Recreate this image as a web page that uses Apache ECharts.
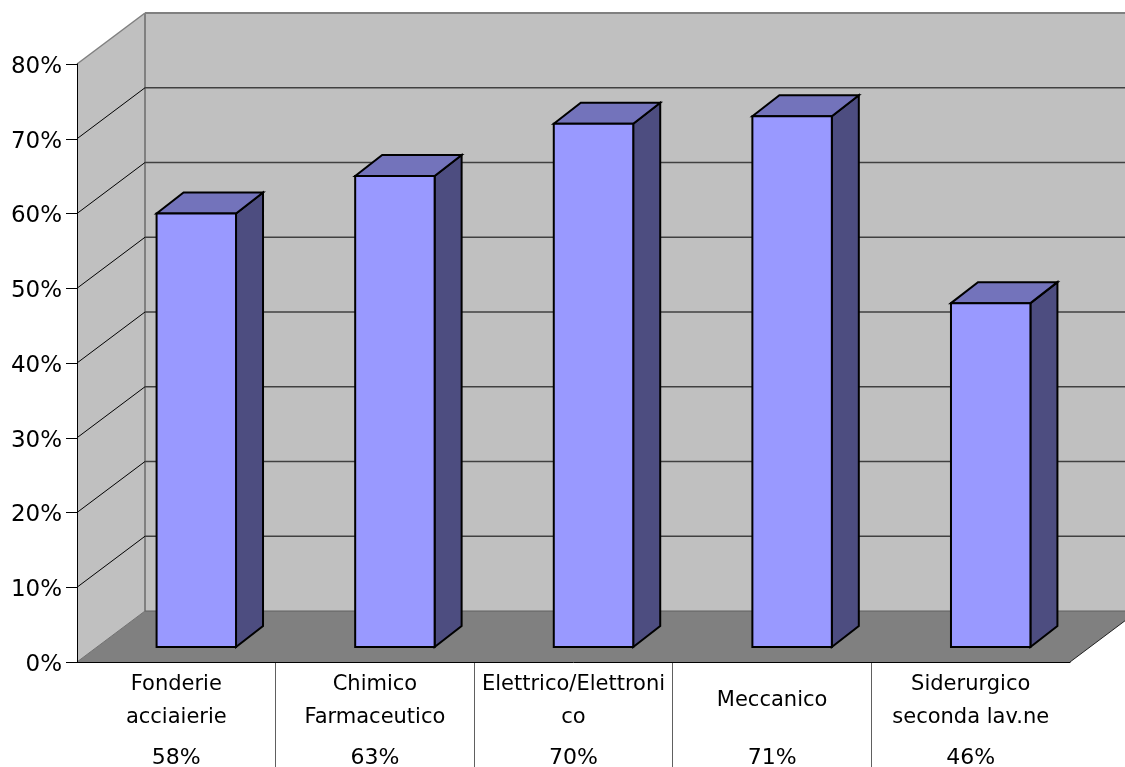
<!DOCTYPE html>
<html>
<head>
<meta charset="utf-8">
<style>
  html, body { margin: 0; padding: 0; background: #fff; }
  #chart { width: 1125px; height: 767px; }
</style>
<script src="https://cdn.jsdelivr.net/npm/echarts@6/dist/echarts.min.js"></script>
</head>
<body>
<div id="chart"></div>
<script>
// Category names as they wrap under the axis
const categories = ['Fonderie\nacciaierie', 'Chimico\nFarmaceutico', 'Elettrico/Elettroni\nco', 'Meccanico', 'Siderurgico\nseconda lav.ne'];
// Share per sector, in percent
const values = [58, 63, 70, 71, 46];
const gridTicks = [10, 20, 30, 40, 50, 60, 70];

// Pseudo-3D projection, in pixels
const WALL_DX = 68, WALL_DY = -51;   // depth of the box
const BAR_DX = 20, BAR_DY = -15;     // bar front face inside the box
const SIDE_DX = 27, SIDE_DY = -21;   // bar depth
const FONT = '"DejaVu Sans", sans-serif';
const TABLE_BOTTOM = 767;

const chart = echarts.init(document.getElementById('chart'), null, { renderer: 'canvas' });

function poly(points, fill, stroke, width) {
  return {
    type: 'polygon',
    shape: { points },
    style: { fill, stroke: stroke || 'none', lineWidth: width || 0 }
  };
}
function line(x1, y1, x2, y2, stroke, width) {
  return { type: 'line', shape: { x1, y1, x2, y2 }, style: { stroke, lineWidth: width } };
}

// Side wall, back wall and floor of the box
function renderWalls(params, api) {
  const n = categories.length;
  const half = api.size([1, 0])[0] / 2;
  const [x0, y80] = api.coord([0, 80]);
  const left = x0 - half;
  const right = api.coord([n - 1, 0])[0] + half;
  const y0 = api.coord([0, 0])[1];
  const top = y80 + WALL_DY;
  const bottom = y0 + WALL_DY;
  const bx = left + WALL_DX;
  const rx = right + WALL_DX;
  return {
    type: 'group',
    children: [
      poly([[bx, top], [rx, top], [rx, bottom], [bx, bottom]], '#c0c0c0'),
      poly([[left, y80], [bx, top], [bx, bottom], [left, y0]], '#c0c0c0'),
      poly([[left, y0], [bx, bottom], [rx, bottom], [right, y0]], '#808080'),
      line(right, y0, rx, bottom, '#202020', 1),
      line(left, y0, bx, bottom, '#707070', 1),
      line(bx, top, bx, bottom, '#808080', 2),
      line(bx, bottom, rx, bottom, '#606060', 1),
      line(left, y80, bx, top, '#808080', 1.5),
      line(bx, top, rx, top, '#808080', 2)
    ]
  };
}

// One gridline: diagonal on the side wall, horizontal on the back wall
function renderGridline(params, api) {
  const v = api.value(0);
  const half = api.size([1, 0])[0] / 2;
  const [x0, y] = api.coord([0, v]);
  const left = x0 - half;
  const right = api.coord([categories.length - 1, 0])[0] + half;
  return {
    type: 'group',
    children: [
      line(left, y, left + WALL_DX, y + WALL_DY, '#000', 1),
      line(left + WALL_DX, y + WALL_DY, right + WALL_DX, y + WALL_DY, '#404040', 1.5)
    ]
  };
}

// Vertical rule between two neighbouring categories, below the axis
function renderDivider(params, api) {
  const i = api.value(0);
  const half = api.size([1, 0])[0] / 2;
  const [cx, y0] = api.coord([i, 0]);
  const x = Math.floor(cx + half) + 0.5;
  return line(x, y0, x, TABLE_BOTTOM, '#606060', 1);
}

// Extruded column: front, top and side faces
function renderBar(params, api) {
  const i = api.value(0);
  const w = api.size([1, 0])[0] * 0.4;
  const [cx, yTop] = api.coord([i, api.value(1)]);
  const yBase = api.coord([i, 0])[1];
  const x1 = cx - w / 2 + BAR_DX;
  const x2 = x1 + w;
  const t = yTop + BAR_DY;
  const b = yBase + BAR_DY;
  const edge = '#000', lw = 2;
  return {
    type: 'group',
    children: [
      poly([[x2, t], [x2 + SIDE_DX, t + SIDE_DY], [x2 + SIDE_DX, b + SIDE_DY], [x2, b]], '#4d4d80', edge, lw),
      poly([[x1, t], [x1 + SIDE_DX, t + SIDE_DY], [x2 + SIDE_DX, t + SIDE_DY], [x2, t]], '#7373bb', edge, lw),
      poly([[x1, t], [x2, t], [x2, b], [x1, b]], '#9999ff', edge, lw)
    ]
  };
}

chart.setOption({
  animation: false,
  backgroundColor: '#fff',
  grid: { left: 77, right: 55, top: 64, bottom: 105, outerBoundsMode: 'none' },
  xAxis: [
    {
      type: 'category',
      data: categories,
      z: 5,
      axisLine: { show: true, lineStyle: { color: '#000', width: 1 } },
      axisTick: { show: false },
      axisLabel: {
        interval: 0, margin: 39, color: '#000', fontFamily: FONT, fontSize: 21,
        lineHeight: 33, verticalAlign: 'middle'
      }
    },
    {
      type: 'category',
      position: 'bottom',
      data: values.map(v => v + '%'),
      axisLine: { show: false },
      axisTick: { show: false },
      axisLabel: {
        interval: 0, margin: 96, color: '#000', fontFamily: FONT, fontSize: 22,
        verticalAlign: 'middle'
      }
    }
  ],
  yAxis: {
    type: 'value',
    min: 0,
    max: 80,
    interval: 10,
    z: 5,
    axisLine: { show: true, lineStyle: { color: '#000', width: 1 } },
    axisTick: { show: true, length: 11, lineStyle: { color: '#000', width: 1 } },
    splitLine: { show: false },
    axisLabel: {
      margin: 15, color: '#000', fontFamily: FONT, fontSize: 23,
      formatter: '{n|{value}%}',
      rich: { n: { fontFamily: FONT, fontSize: 23, color: '#000', padding: [6, 0, 0, 0] } }
    }
  },
  series: [
    {
      type: 'custom', name: 'walls', renderItem: renderWalls, clip: false, z: 1,
      silent: true, data: [[0, 80]], encode: { x: 0, y: 1 }
    },
    {
      type: 'custom', name: 'grid', renderItem: renderGridline, clip: false, z: 2,
      silent: true, data: gridTicks.map(v => [v]), encode: { y: 0 }
    },
    {
      type: 'custom', name: 'dividers', renderItem: renderDivider, clip: false, z: 2,
      silent: true, data: categories.slice(0, -1).map((c, i) => [i]), encode: { x: 0 }
    },
    {
      type: 'custom', name: 'share', renderItem: renderBar, clip: false, z: 3,
      data: values.map((v, i) => [i, v]), encode: { x: 0, y: 1 }
    }
  ]
});
</script>
</body>
</html>
